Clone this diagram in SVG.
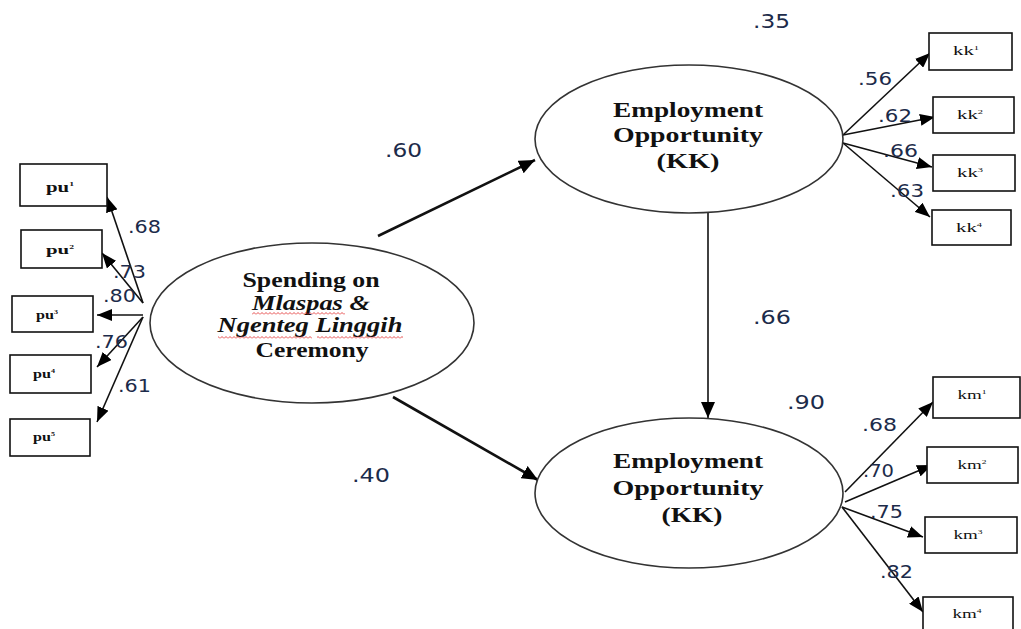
<svg xmlns="http://www.w3.org/2000/svg" width="1021" height="629" viewBox="0 0 1021 629">
<style>
.ell{fill:#fff;stroke:#333;stroke-width:1.6}
.box{fill:#fff;stroke:#111;stroke-width:1.6}
.et{font-family:"Liberation Serif","Times New Roman",serif;font-weight:bold;fill:#111;text-anchor:middle}
.bt{font-family:"Liberation Serif","Times New Roman",serif;fill:#111;text-anchor:middle}
.lb{font-family:"DejaVu Sans","Verdana",sans-serif;fill:#1c2b4a}
.c{fill:none;stroke:#111}
.main{stroke-width:2.6}
.thin{stroke-width:1.6}
</style>
<defs>
<marker id="ah" viewBox="0 0 16 14" refX="16" refY="7" markerWidth="16" markerHeight="14" markerUnits="userSpaceOnUse" orient="auto"><path d="M0,0 L16,7 L0,14 z" fill="#000"/></marker>
<marker id="ahs" viewBox="0 0 15 12" refX="15" refY="6" markerWidth="15" markerHeight="12" markerUnits="userSpaceOnUse" orient="auto"><path d="M0,0 L15,6 L0,12 z" fill="#000"/></marker>
<pattern id="wavy" patternUnits="userSpaceOnUse" width="4" height="3"><path d="M0,2.5 L2,0.5 L4,2.5" fill="none" stroke="#e02020" stroke-width="0.8"/></pattern>
</defs>
<rect width="1021" height="629" fill="#fff"/>

<g id="connectors">
<path class="c main" d="M378,236 L535,160" marker-end="url(#ah)"/>
<path class="c main" d="M393,397 L538,480" marker-end="url(#ah)"/>
<path class="c thin" d="M708,213 L708,418" marker-end="url(#ah)"/>
<path class="c thin" d="M143,303 L107,197" marker-end="url(#ahs)"/>
<path class="c thin" d="M143,303 L102,253" marker-end="url(#ahs)"/>
<path class="c thin" d="M143,315 L97,315" marker-end="url(#ahs)"/>
<path class="c thin" d="M143,317 L97,367" marker-end="url(#ahs)"/>
<path class="c thin" d="M143,317 L97,422" marker-end="url(#ahs)"/>
<path class="c thin" d="M843,135 L930,53" marker-end="url(#ahs)"/>
<path class="c thin" d="M843,135 L935,117" marker-end="url(#ahs)"/>
<path class="c thin" d="M843,143 L932,167" marker-end="url(#ahs)"/>
<path class="c thin" d="M843,143 L930,217" marker-end="url(#ahs)"/>
<path class="c thin" d="M845,492 L933,402" marker-end="url(#ahs)"/>
<path class="c thin" d="M845,502 L932,465" marker-end="url(#ahs)"/>
<path class="c thin" d="M842,507 L923,537" marker-end="url(#ahs)"/>
<path class="c thin" d="M842,507 L923,612" marker-end="url(#ahs)"/>
</g>

<g id="spending">
<ellipse class="ell" cx="312" cy="323" rx="162" ry="80"/>
<text class="et" x="311" y="287" font-size="20" textLength="137" lengthAdjust="spacingAndGlyphs">Spending on</text>
<text class="et" x="311" y="310" font-size="20" font-style="italic" textLength="118" lengthAdjust="spacingAndGlyphs">Mlaspas &amp;</text>
<text class="et" x="310" y="332" font-size="20" font-style="italic" textLength="185" lengthAdjust="spacingAndGlyphs">Ngenteg Linggih</text>
<text class="et" x="312" y="357" font-size="20" textLength="113" lengthAdjust="spacingAndGlyphs">Ceremony</text>
<rect x="252" y="312" width="93" height="3" fill="url(#wavy)"/>
<rect x="218" y="336" width="94" height="3" fill="url(#wavy)"/>
<rect x="317" y="336" width="86" height="3" fill="url(#wavy)"/>
</g>

<g id="kk-top">
<ellipse class="ell" cx="689" cy="139" rx="154" ry="74"/>
<text class="et" x="688" y="117" font-size="21" textLength="150" lengthAdjust="spacingAndGlyphs">Employment</text>
<text class="et" x="688" y="142" font-size="21" textLength="150" lengthAdjust="spacingAndGlyphs">Opportunity</text>
<text class="et" x="688" y="168" font-size="21" textLength="63" lengthAdjust="spacingAndGlyphs">(KK)</text>
</g>

<g id="kk-bottom">
<ellipse class="ell" cx="689" cy="493" rx="154" ry="75"/>
<text class="et" x="688" y="468" font-size="21" textLength="150" lengthAdjust="spacingAndGlyphs">Employment</text>
<text class="et" x="688" y="495" font-size="21" textLength="151" lengthAdjust="spacingAndGlyphs">Opportunity</text>
<text class="et" x="692" y="522" font-size="21" textLength="61" lengthAdjust="spacingAndGlyphs">(KK)</text>
</g>

<g id="pu1"><rect class="box" x="20" y="164" width="87" height="42"/><text class="bt" x="60" y="192" font-size="15" font-weight="bold" textLength="28" lengthAdjust="spacingAndGlyphs">pu<tspan font-size="7" dy="-6">1</tspan></text></g>
<g id="pu2"><rect class="box" x="21" y="230" width="81" height="38"/><text class="bt" x="60" y="254" font-size="13" font-weight="bold" textLength="28" lengthAdjust="spacingAndGlyphs">pu<tspan font-size="6" dy="-5">2</tspan></text></g>
<g id="pu3"><rect class="box" x="12" y="296" width="81" height="36"/><text class="bt" x="47" y="319" font-size="12" font-weight="bold" textLength="22" lengthAdjust="spacingAndGlyphs">pu<tspan font-size="6" dy="-5">3</tspan></text></g>
<g id="pu4"><rect class="box" x="10" y="355" width="81" height="38"/><text class="bt" x="44" y="378" font-size="12" font-weight="bold" textLength="22" lengthAdjust="spacingAndGlyphs">pu<tspan font-size="6" dy="-5">4</tspan></text></g>
<g id="pu5"><rect class="box" x="10" y="419" width="80" height="37"/><text class="bt" x="44" y="441" font-size="12" font-weight="bold" textLength="22" lengthAdjust="spacingAndGlyphs">pu<tspan font-size="6" dy="-5">5</tspan></text></g>

<g id="kk1"><rect class="box" x="929" y="33" width="83" height="37"/><text class="bt" x="966" y="55" font-size="12" textLength="26" lengthAdjust="spacingAndGlyphs">kk<tspan font-size="6" dy="-5">1</tspan></text></g>
<g id="kk2"><rect class="box" x="933" y="97" width="81" height="36"/><text class="bt" x="970" y="119" font-size="12" textLength="26" lengthAdjust="spacingAndGlyphs">kk<tspan font-size="6" dy="-5">2</tspan></text></g>
<g id="kk3"><rect class="box" x="933" y="155" width="82" height="36"/><text class="bt" x="970" y="177" font-size="12" textLength="26" lengthAdjust="spacingAndGlyphs">kk<tspan font-size="6" dy="-5">3</tspan></text></g>
<g id="kk4"><rect class="box" x="932" y="210" width="79" height="35"/><text class="bt" x="969" y="232" font-size="12" textLength="26" lengthAdjust="spacingAndGlyphs">kk<tspan font-size="6" dy="-5">4</tspan></text></g>

<g id="km1"><rect class="box" x="933" y="377" width="87" height="41"/><text class="bt" x="972" y="399" font-size="12" textLength="29" lengthAdjust="spacingAndGlyphs">km<tspan font-size="6" dy="-5">1</tspan></text></g>
<g id="km2"><rect class="box" x="927" y="447" width="91" height="36"/><text class="bt" x="972" y="469" font-size="12" textLength="29" lengthAdjust="spacingAndGlyphs">km<tspan font-size="6" dy="-5">2</tspan></text></g>
<g id="km3"><rect class="box" x="925" y="517" width="92" height="36"/><text class="bt" x="968" y="539" font-size="12" textLength="29" lengthAdjust="spacingAndGlyphs">km<tspan font-size="6" dy="-5">3</tspan></text></g>
<g id="km4"><rect class="box" x="923" y="597" width="90" height="40"/><text class="bt" x="967" y="618" font-size="12" textLength="29" lengthAdjust="spacingAndGlyphs">km<tspan font-size="6" dy="-5">4</tspan></text></g>

<g id="labels">
<text class="lb" x="753" y="28" font-size="19" textLength="37" lengthAdjust="spacingAndGlyphs">.35</text>
<text class="lb" x="385" y="157" font-size="19" textLength="37" lengthAdjust="spacingAndGlyphs">.60</text>
<text class="lb" x="753" y="324" font-size="19" textLength="38" lengthAdjust="spacingAndGlyphs">.66</text>
<text class="lb" x="787" y="409" font-size="19" textLength="38" lengthAdjust="spacingAndGlyphs">.90</text>
<text class="lb" x="352" y="482" font-size="19" textLength="38" lengthAdjust="spacingAndGlyphs">.40</text>
<text class="lb" x="128" y="233" font-size="17" textLength="33" lengthAdjust="spacingAndGlyphs">.68</text>
<text class="lb" x="113" y="278" font-size="17" textLength="33" lengthAdjust="spacingAndGlyphs">.73</text>
<text class="lb" x="103" y="302" font-size="17" textLength="33" lengthAdjust="spacingAndGlyphs">.80</text>
<text class="lb" x="95" y="348" font-size="17" textLength="33" lengthAdjust="spacingAndGlyphs">.76</text>
<text class="lb" x="118" y="392" font-size="17" textLength="33" lengthAdjust="spacingAndGlyphs">.61</text>
<text class="lb" x="858" y="85" font-size="17" textLength="34" lengthAdjust="spacingAndGlyphs">.56</text>
<text class="lb" x="878" y="122" font-size="17" textLength="34" lengthAdjust="spacingAndGlyphs">.62</text>
<text class="lb" x="883" y="157" font-size="17" textLength="35" lengthAdjust="spacingAndGlyphs">.66</text>
<text class="lb" x="890" y="197" font-size="17" textLength="34" lengthAdjust="spacingAndGlyphs">.63</text>
<text class="lb" x="862" y="431" font-size="17" textLength="35" lengthAdjust="spacingAndGlyphs">.68</text>
<text class="lb" x="863" y="477" font-size="17" textLength="31" lengthAdjust="spacingAndGlyphs">.70</text>
<text class="lb" x="870" y="518" font-size="17" textLength="33" lengthAdjust="spacingAndGlyphs">.75</text>
<text class="lb" x="880" y="578" font-size="17" textLength="33" lengthAdjust="spacingAndGlyphs">.82</text>
</g>
</svg>
